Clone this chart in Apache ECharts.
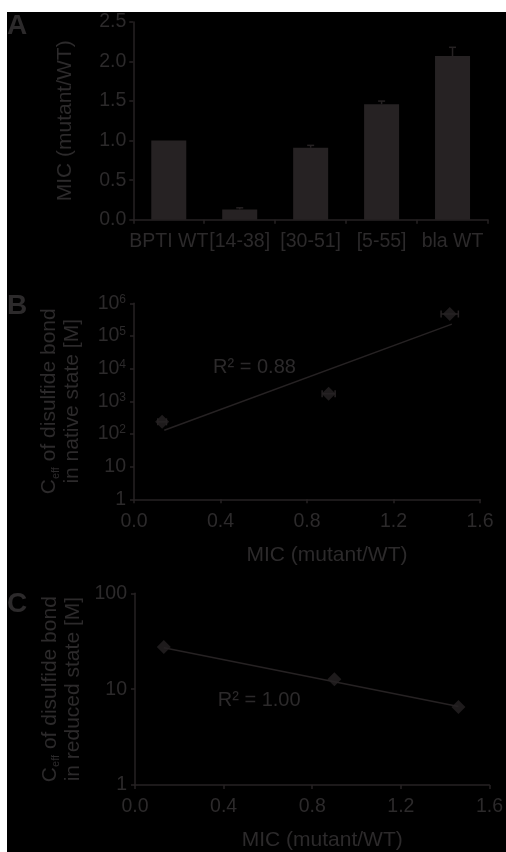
<!DOCTYPE html>
<html>
<head>
<meta charset="utf-8">
<script src="https://cdn.jsdelivr.net/npm/echarts@6/dist/echarts.min.js"></script>
<style>
html, body { margin: 0; padding: 0; background: #fff; width: 506px; height: 852px; overflow: hidden; }
#chart { position: absolute; left: 7px; top: 12px; width: 499px; height: 840px; background: #000; }
</style>
</head>
<body>
<div id="chart"></div>
<script>
// Panel A: MIC of each construct relative to wild type
const categories = ['BPTI WT', '[14-38]', '[30-51]', '[5-55]', 'bla WT'];
const micRatio = [1.00, 0.13, 0.91, 1.46, 2.07];
const micError = [0.00, 0.02, 0.03, 0.04, 0.11];
const ticksA = [0, 0.5, 1.0, 1.5, 2.0, 2.5];

// Panels B and C: single-disulfide mutants [14-38], [30-51], [5-55]
const mutantMic = [0.13, 0.90, 1.46];
const mutantMicErr = [0.02, 0.03, 0.04];
const ceffNative = [235, 1700, 470000];
const ceffReduced = [27.5, 12.7, 6.5];
const fitNative = [[0.14, 130], [1.47, 230000]];
const fitReduced = [[0.13, 27], [1.46, 6.6]];
const r2Native = 'R\u00b2 = 0.88';
const r2Reduced = 'R\u00b2 = 1.00';
const ticksMic = [0, 0.4, 0.8, 1.2, 1.6];

const ink = '#262223';
const txt = '#2c2a2b';
const font = '"Liberation Sans", Arial, Helvetica, sans-serif';

const chart = echarts.init(document.getElementById('chart'), null, { renderer: 'canvas' });

const axisLine = { show: true, lineStyle: { color: ink, width: 1.5 } };
const tick = { show: true, length: 4, lineStyle: { color: ink, width: 1.5 } };
const tickLabel = { color: txt, fontFamily: font, fontSize: 19.5 };

function micAxis(gridIndex, nameGap, namePad) {
  return {
    type: 'value', gridIndex,
    min: ticksMic[0], max: ticksMic[ticksMic.length - 1], interval: 0.4,
    axisLine, axisTick: tick, splitLine: { show: false },
    axisLabel: Object.assign({ margin: 12, formatter: v => v.toFixed(1) }, tickLabel),
    name: 'MIC (mutant/WT)', nameLocation: 'middle', nameGap,
    nameTextStyle: { color: txt, fontFamily: font, fontSize: 21, padding: namePad }
  };
}

function logAxis(gridIndex, max, splits, line2, nameGap) {
  return {
    type: 'log', logBase: 10, gridIndex, min: 1, max, splitNumber: splits,
    axisLine, axisTick: tick, splitLine: { show: false }, minorTick: { show: false },
    axisLabel: {
      margin: 8,
      formatter: v => {
        const e = Math.round(Math.log10(v));
        if (e === 0) return '{b|1}';
        if (e === 1 || max <= 100) return '{b|' + Math.round(v) + '}';
        return '{b|10}{s|' + e + '}';
      },
      rich: {
        b: { color: txt, fontFamily: font, fontSize: 19.5 },
        s: { color: txt, fontFamily: font, fontSize: 12, verticalAlign: 'top' }
      }
    },
    name: '{n|C}{sub|eff}{n| of disulfide bond}\n{n|' + line2 + '}',
    nameLocation: 'middle', nameGap,
    nameTextStyle: {
      rich: {
        n: { color: txt, fontFamily: font, fontSize: 21, lineHeight: 23 },
        sub: { color: txt, fontFamily: font, fontSize: 11, lineHeight: 23, verticalAlign: 'bottom' }
      }
    }
  };
}

function hErrorBars(xs, ys, errs, xi, yi) {
  return {
    type: 'custom', xAxisIndex: xi, yAxisIndex: yi, z: 1,
    data: xs.map((x, i) => [x, ys[i], errs[i]]),
    encode: { x: 0, y: 1 },
    renderItem(params, api) {
      const x = api.value(0), y = api.value(1), e = api.value(2);
      const a = api.coord([x - e, y]), b = api.coord([x + e, y]);
      const st = { stroke: ink, lineWidth: 1.5 };
      return {
        type: 'group', children: [
          { type: 'line', shape: { x1: a[0], y1: a[1], x2: b[0], y2: b[1] }, style: st },
          { type: 'line', shape: { x1: a[0], y1: a[1] - 3.5, x2: a[0], y2: a[1] + 3.5 }, style: st },
          { type: 'line', shape: { x1: b[0], y1: b[1] - 3.5, x2: b[0], y2: b[1] + 3.5 }, style: st }
        ]
      };
    }
  };
}

function panelLetter(letter, top) {
  return {
    type: 'text', left: 0, top,
    style: { text: letter, fontSize: 28, fontWeight: 'bold', fontFamily: font, fill: txt }
  };
}

const option = {
  animation: false,
  backgroundColor: '#000',
  grid: [
    { left: 126.3, top: 8.7, width: 354.7, height: 199 },
    { left: 127, top: 291.3, width: 346, height: 196 },
    { left: 128, top: 581.3, width: 355, height: 196 }
  ],
  xAxis: [
    {
      type: 'category', gridIndex: 0, data: categories, boundaryGap: true,
      axisLine, axisTick: Object.assign({ alignWithLabel: false, interval: 0 }, tick),
      axisLabel: Object.assign({ interval: 0, margin: 12 }, tickLabel)
    },
    micAxis(1, 45, [0, 0, 0, 40]),
    micAxis(2, 45, [0, 0, 0, 20])
  ],
  yAxis: [
    {
      type: 'value', gridIndex: 0,
      min: ticksA[0], max: ticksA[ticksA.length - 1], interval: 0.5,
      axisLine, axisTick: tick, splitLine: { show: false },
      axisLabel: Object.assign({ margin: 7, formatter: v => v.toFixed(1) }, tickLabel),
      name: 'MIC (mutant/WT)', nameLocation: 'middle', nameGap: 58,
      nameTextStyle: { color: txt, fontFamily: font, fontSize: 21 }
    },
    logAxis(1, 1e6, 6, 'in native state [M]', 50),
    logAxis(2, 100, 2, 'in reduced state [M]', 50)
  ],
  series: [
    {
      type: 'bar', xAxisIndex: 0, yAxisIndex: 0, data: micRatio,
      barWidth: 35, itemStyle: { color: ink }
    },
    {
      type: 'custom', xAxisIndex: 0, yAxisIndex: 0, z: 3,
      data: categories.map((c, i) => [i, micRatio[i], micRatio[i] + micError[i]]),
      encode: { x: 0, y: [1, 2] },
      renderItem(params, api) {
        if (api.value(2) <= api.value(1)) return null;
        const base = api.coord([api.value(0), api.value(1)]);
        const top = api.coord([api.value(0), api.value(2)]);
        const st = { stroke: ink, lineWidth: 1.5 };
        return {
          type: 'group', children: [
            { type: 'line', shape: { x1: base[0], y1: base[1], x2: top[0], y2: top[1] }, style: st },
            { type: 'line', shape: { x1: top[0] - 3.5, y1: top[1], x2: top[0] + 3.5, y2: top[1] }, style: st }
          ]
        };
      }
    },
    hErrorBars(mutantMic, ceffNative, mutantMicErr, 1, 1),
    {
      type: 'line', xAxisIndex: 1, yAxisIndex: 1, data: fitNative,
      symbol: 'none', lineStyle: { color: ink, width: 1.5 }, z: 2
    },
    {
      type: 'scatter', xAxisIndex: 1, yAxisIndex: 1,
      data: mutantMic.map((x, i) => [x, ceffNative[i]]),
      symbol: 'diamond', symbolSize: 14, itemStyle: { color: ink }, z: 3
    },
    {
      type: 'line', xAxisIndex: 2, yAxisIndex: 2, data: fitReduced,
      symbol: 'none', lineStyle: { color: ink, width: 1.5 }, z: 2
    },
    {
      type: 'scatter', xAxisIndex: 2, yAxisIndex: 2,
      data: mutantMic.map((x, i) => [x, ceffReduced[i]]),
      symbol: 'diamond', symbolSize: 14, itemStyle: { color: ink }, z: 3
    }
  ],
  graphic: [
    panelLetter('A', 0),
    panelLetter('B', 280),
    panelLetter('C', 578),
    { type: 'text', x: 247.5, y: 355.3, style: { text: r2Native, fontSize: 20, fontFamily: font, fill: txt, align: 'center', verticalAlign: 'middle' } },
    { type: 'text', x: 252.2, y: 688, style: { text: r2Reduced, fontSize: 20, fontFamily: font, fill: txt, align: 'center', verticalAlign: 'middle' } }
  ]
};

chart.setOption(option);
</script>
</body>
</html>
